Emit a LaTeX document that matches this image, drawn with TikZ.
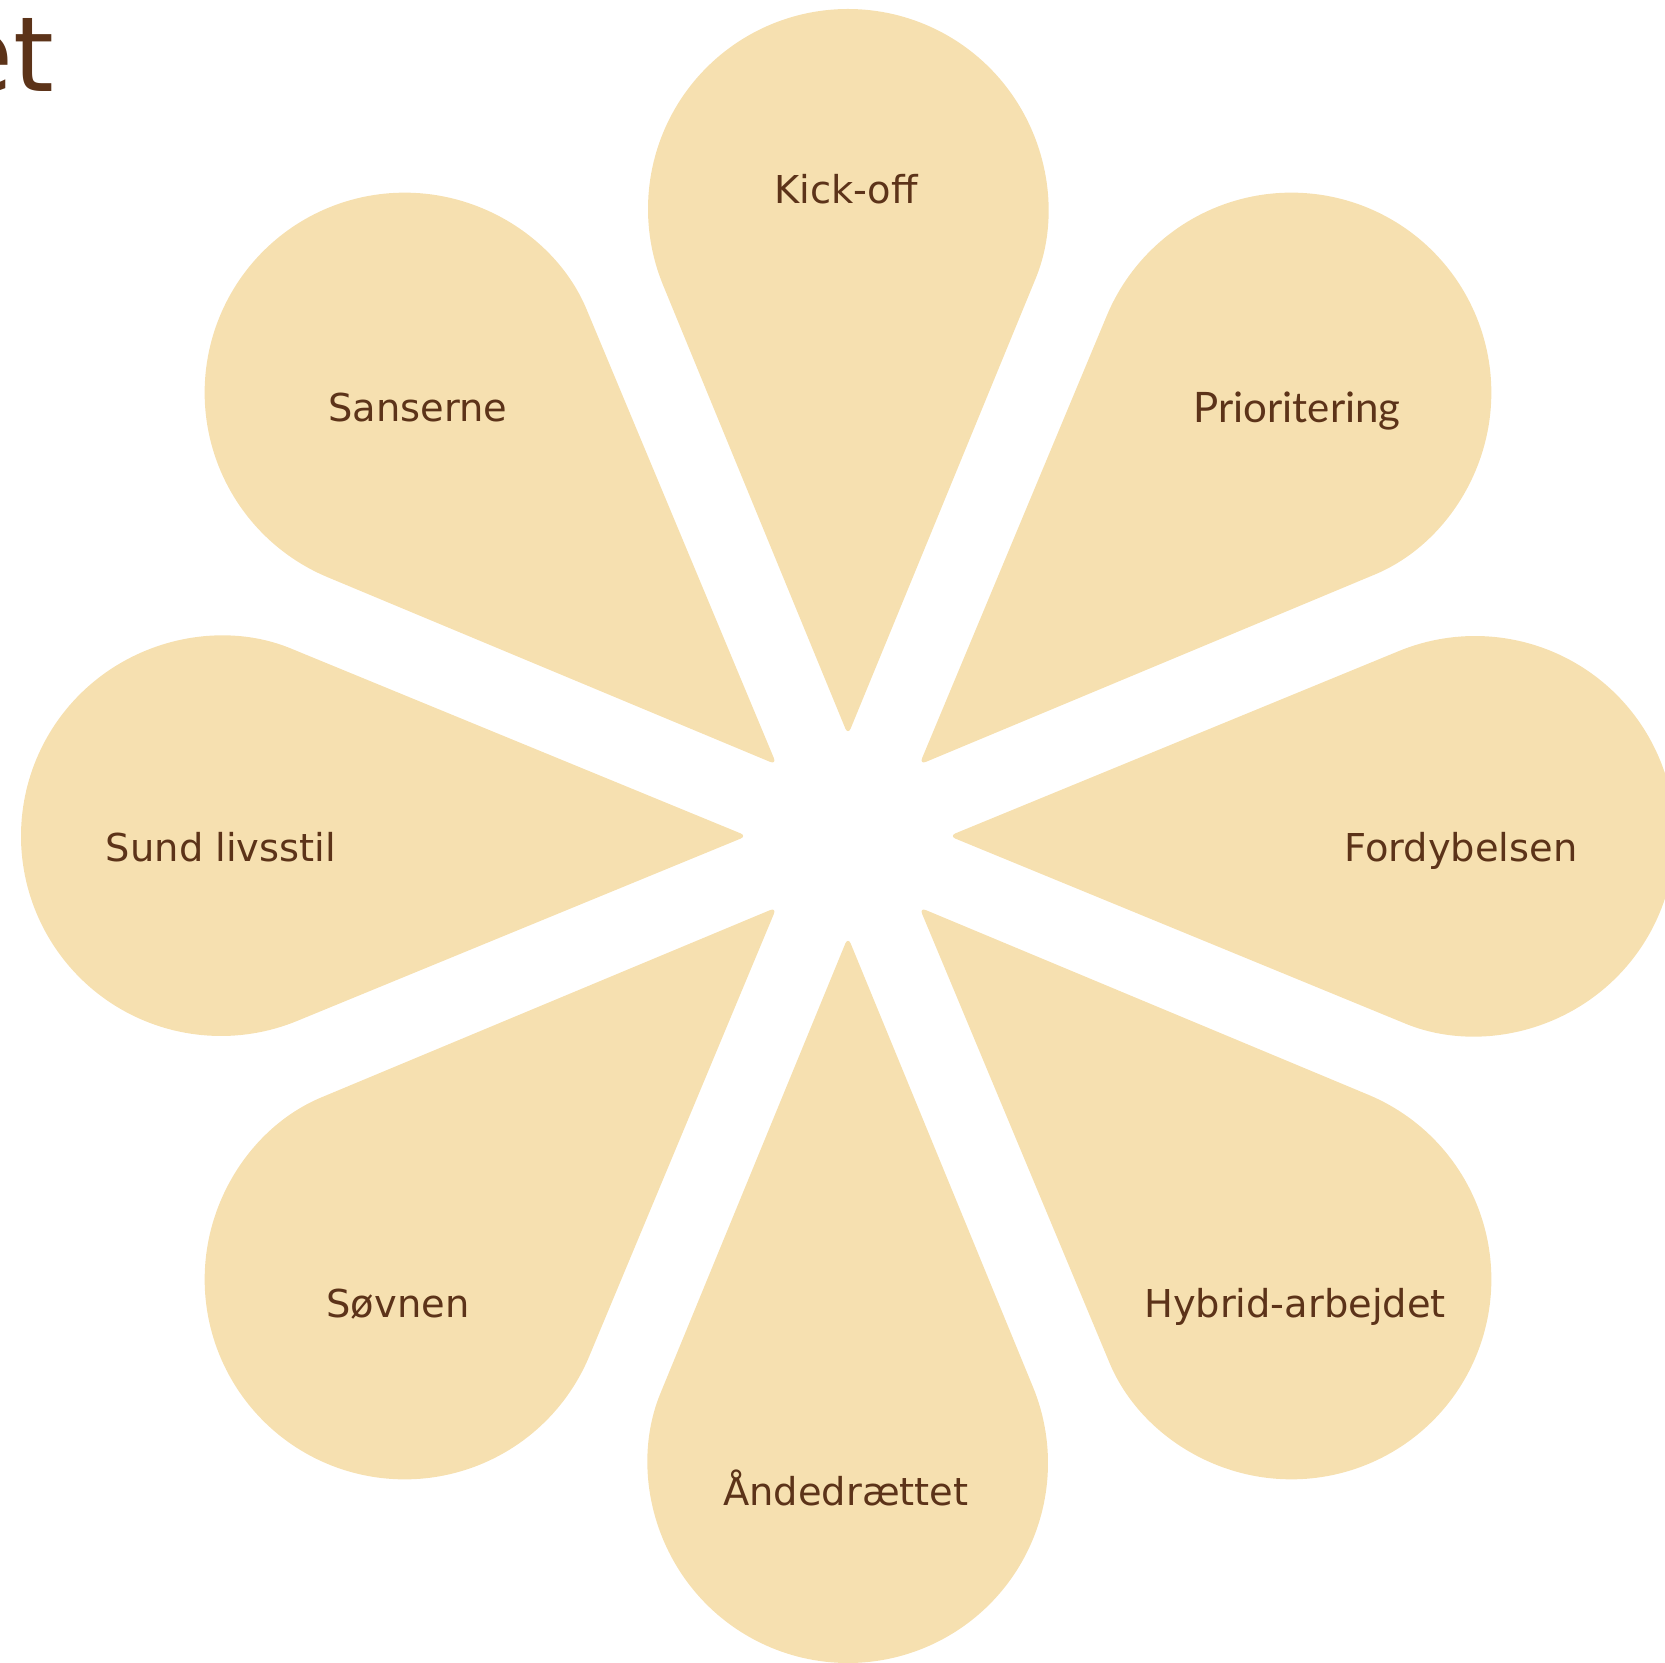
\documentclass[tikz,border=0pt]{standalone}
\usepackage{fontspec}
\setmainfont{DejaVu Sans}
\newfontfamily\latofont{Lato}
\definecolor{petal}{HTML}{F6E0B0}
\definecolor{ink}{HTML}{5C3319}
\begin{document}
\begin{tikzpicture}[x=0.5pt,y=0.5pt,
  petalfill/.style={fill=petal},
  lbl/.style={text=ink, font=\fontsize{19.2}{23}\selectfont, anchor=base, inner sep=0pt}]
\useasboundingbox (0,0) rectangle (1665,1662);
\clip (0,0) rectangle (1665,1662);
% petal: tip at 101 from centre, circle (r=200) centre at 627
\pgfmathsetmacro{\alf}{asin(200/526)}
\foreach \a in {0,45,...,315}{
  \begin{scope}[shift={(848,826)}, rotate=\a]
    \fill[petalfill] (0,827) arc[start angle=90, end angle={180+\alf}, radius=200]
      [rounded corners=3.5pt] -- (0,101) -- ({200*cos(\alf)},{627-200*sin(\alf)}) [sharp corners]
      arc[start angle={-\alf}, end angle=90, radius=200] -- cycle;
  \end{scope}
}
\node[lbl] (kick) at (846,1458.7) {Kick-off};
\node[lbl] (sans) at (418,1240) {Sanserne};
\node[lbl, font=\latofont\fontsize{21}{25}\selectfont] (prio) at (1297,1239.7) {Prioritering};
\node[lbl] (sund) at (221,800.3) {Sund livsstil};
\node[lbl] (ford) at (1461,800) {Fordybelsen};
\node[lbl] (sovn) at (398,345) {Søvnen};
\node[lbl] (hybr) at (1295,344.7) {Hybrid-arbejdet};
\node[lbl] (ande) at (846,157) {Åndedrættet};
\node[text=ink, font=\fontsize{52}{60}\selectfont, anchor=base east, inner sep=0pt] (title) at (55,1570) {et};
\end{tikzpicture}
\end{document}
